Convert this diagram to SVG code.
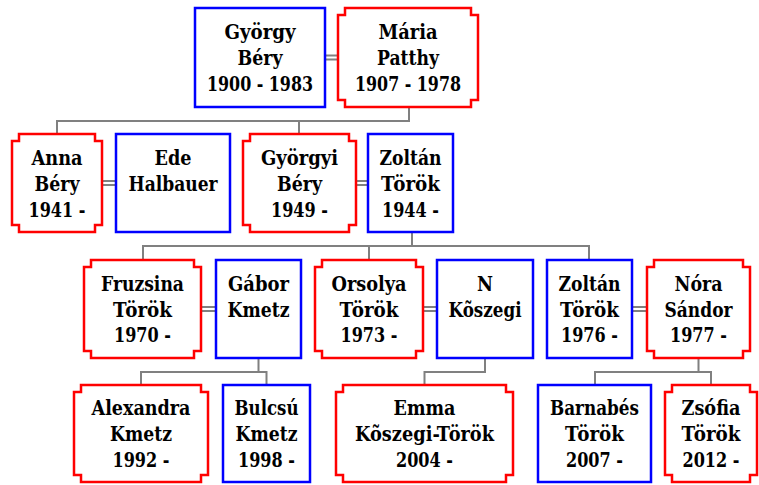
<svg xmlns="http://www.w3.org/2000/svg" width="759" height="485" viewBox="0 0 759 485">
  <style>
    .m { fill: #fff; stroke: #0000ff; stroke-width: 2.5; }
    .f { fill: #fff; stroke: #ff0000; stroke-width: 2.5; }
    .lbl { font-family: "DejaVu Serif", "Liberation Serif", serif; font-size: 20px; font-weight: bold; text-anchor: middle; fill: #000; }
    .ln { fill: none; stroke: #808080; stroke-width: 2; }
  </style>
  <rect width="759" height="485" fill="#fff"/>

  <!-- connectors: marriage double lines and descent lines -->
  <g id="connectors" class="ln">
    <path d="M325 55.5H338M325 59.5H338"/>
    <path d="M57 134V121H409V107M299 121V134"/>
    <path d="M102 181H116M102 185H116"/>
    <path d="M356 181H368M356 185H368"/>
    <path d="M143 260V246H589V260M412 232V246M369 246V260"/>
    <path d="M201 307H216M201 311H216"/>
    <path d="M423 307H437M423 311H437"/>
    <path d="M632 307H647M632 311H647"/>
    <path d="M141 385V372H266.5V385M258.5 358V372"/>
    <path d="M485 358V372H424.5V385"/>
    <path d="M595 385V372H711V385M698.5 358V372"/>
  </g>

  <!-- generation 1 -->
  <g id="gyorgy-bery">
    <rect class="m" x="195" y="8" width="130" height="99"/>
    <text class="lbl" x="260" y="39" textLength="71" lengthAdjust="spacingAndGlyphs">György</text>
    <text class="lbl" x="260" y="65" textLength="45" lengthAdjust="spacingAndGlyphs">Béry</text>
    <text class="lbl" x="260" y="91" textLength="106" lengthAdjust="spacingAndGlyphs">1900 - 1983</text>
  </g>
  <g id="maria-patthy">
    <path class="f" d="M345 8H471V15H478V100H471V107H345V100H338V15H345Z"/>
    <text class="lbl" x="408" y="39" textLength="59" lengthAdjust="spacingAndGlyphs">Mária</text>
    <text class="lbl" x="408" y="65" textLength="62" lengthAdjust="spacingAndGlyphs">Patthy</text>
    <text class="lbl" x="408" y="91" textLength="106" lengthAdjust="spacingAndGlyphs">1907 - 1978</text>
  </g>

  <!-- generation 2 -->
  <g id="anna-bery">
    <path class="f" d="M19 134H95V141H102V225H95V232H19V225H12V141H19Z"/>
    <text class="lbl" x="57" y="165" textLength="51" lengthAdjust="spacingAndGlyphs">Anna</text>
    <text class="lbl" x="57" y="191" textLength="45" lengthAdjust="spacingAndGlyphs">Béry</text>
    <text class="lbl" x="57" y="217" textLength="57" lengthAdjust="spacingAndGlyphs">1941 -</text>
  </g>
  <g id="ede-halbauer">
    <rect class="m" x="116" y="134" width="114" height="98"/>
    <text class="lbl" x="173" y="165" textLength="37" lengthAdjust="spacingAndGlyphs">Ede</text>
    <text class="lbl" x="173" y="191" textLength="89" lengthAdjust="spacingAndGlyphs">Halbauer</text>
  </g>
  <g id="gyorgyi-bery">
    <path class="f" d="M250 134H349V141H356V225H349V232H250V225H243V141H250Z"/>
    <text class="lbl" x="299.5" y="165" textLength="77" lengthAdjust="spacingAndGlyphs">Györgyi</text>
    <text class="lbl" x="299.5" y="191" textLength="45" lengthAdjust="spacingAndGlyphs">Béry</text>
    <text class="lbl" x="299.5" y="217" textLength="57" lengthAdjust="spacingAndGlyphs">1949 -</text>
  </g>
  <g id="zoltan-torok-1944">
    <rect class="m" x="368" y="134" width="85" height="98"/>
    <text class="lbl" x="410.5" y="165" textLength="62" lengthAdjust="spacingAndGlyphs">Zoltán</text>
    <text class="lbl" x="410.5" y="191" textLength="59" lengthAdjust="spacingAndGlyphs">Török</text>
    <text class="lbl" x="410.5" y="217" textLength="57" lengthAdjust="spacingAndGlyphs">1944 -</text>
  </g>

  <!-- generation 3 -->
  <g id="fruzsina-torok">
    <path class="f" d="M91 260H194V267H201V351H194V358H91V351H84V267H91Z"/>
    <text class="lbl" x="142.5" y="291" textLength="83" lengthAdjust="spacingAndGlyphs">Fruzsina</text>
    <text class="lbl" x="142.5" y="317" textLength="59" lengthAdjust="spacingAndGlyphs">Török</text>
    <text class="lbl" x="142.5" y="342" textLength="57" lengthAdjust="spacingAndGlyphs">1970 -</text>
  </g>
  <g id="gabor-kmetz">
    <rect class="m" x="216" y="260" width="85" height="98"/>
    <text class="lbl" x="258.5" y="291" textLength="61" lengthAdjust="spacingAndGlyphs">Gábor</text>
    <text class="lbl" x="258.5" y="317" textLength="62" lengthAdjust="spacingAndGlyphs">Kmetz</text>
  </g>
  <g id="orsolya-torok">
    <path class="f" d="M322 260H416V267H423V351H416V358H322V351H315V267H322Z"/>
    <text class="lbl" x="369" y="291" textLength="75" lengthAdjust="spacingAndGlyphs">Orsolya</text>
    <text class="lbl" x="369" y="317" textLength="59" lengthAdjust="spacingAndGlyphs">Török</text>
    <text class="lbl" x="369" y="342" textLength="57" lengthAdjust="spacingAndGlyphs">1973 -</text>
  </g>
  <g id="n-koszegi">
    <rect class="m" x="437" y="260" width="96" height="98"/>
    <text class="lbl" x="485" y="291" textLength="16" lengthAdjust="spacingAndGlyphs">N</text>
    <text class="lbl" x="485" y="317" textLength="73" lengthAdjust="spacingAndGlyphs">Kõszegi</text>
  </g>
  <g id="zoltan-torok-1976">
    <rect class="m" x="547" y="260" width="85" height="98"/>
    <text class="lbl" x="589.5" y="291" textLength="62" lengthAdjust="spacingAndGlyphs">Zoltán</text>
    <text class="lbl" x="589.5" y="317" textLength="59" lengthAdjust="spacingAndGlyphs">Török</text>
    <text class="lbl" x="589.5" y="342" textLength="57" lengthAdjust="spacingAndGlyphs">1976 -</text>
  </g>
  <g id="nora-sandor">
    <path class="f" d="M654 260H743V267H750V351H743V358H654V351H647V267H654Z"/>
    <text class="lbl" x="698.5" y="291" textLength="48" lengthAdjust="spacingAndGlyphs">Nóra</text>
    <text class="lbl" x="698.5" y="317" textLength="68" lengthAdjust="spacingAndGlyphs">Sándor</text>
    <text class="lbl" x="698.5" y="342" textLength="57" lengthAdjust="spacingAndGlyphs">1977 -</text>
  </g>

  <!-- generation 4 -->
  <g id="alexandra-kmetz">
    <path class="f" d="M81 385H201V392H208V475H201V482H81V475H74V392H81Z"/>
    <text class="lbl" x="141" y="415" textLength="99" lengthAdjust="spacingAndGlyphs">Alexandra</text>
    <text class="lbl" x="141" y="441" textLength="62" lengthAdjust="spacingAndGlyphs">Kmetz</text>
    <text class="lbl" x="141" y="467" textLength="57" lengthAdjust="spacingAndGlyphs">1992 -</text>
  </g>
  <g id="bulcsu-kmetz">
    <rect class="m" x="223" y="385" width="87" height="97"/>
    <text class="lbl" x="266.5" y="415" textLength="64" lengthAdjust="spacingAndGlyphs">Bulcsú</text>
    <text class="lbl" x="266.5" y="441" textLength="62" lengthAdjust="spacingAndGlyphs">Kmetz</text>
    <text class="lbl" x="266.5" y="467" textLength="57" lengthAdjust="spacingAndGlyphs">1998 -</text>
  </g>
  <g id="emma-koszegi-torok">
    <path class="f" d="M343 385H506V392H513V475H506V482H343V475H336V392H343Z"/>
    <text class="lbl" x="424.5" y="415" textLength="62" lengthAdjust="spacingAndGlyphs">Emma</text>
    <text class="lbl" x="424.5" y="441" textLength="139" lengthAdjust="spacingAndGlyphs">Kõszegi-Török</text>
    <text class="lbl" x="424.5" y="467" textLength="57" lengthAdjust="spacingAndGlyphs">2004 -</text>
  </g>
  <g id="barnabes-torok">
    <rect class="m" x="538" y="385" width="113" height="97"/>
    <text class="lbl" x="594.5" y="415" textLength="89" lengthAdjust="spacingAndGlyphs">Barnabés</text>
    <text class="lbl" x="594.5" y="441" textLength="59" lengthAdjust="spacingAndGlyphs">Török</text>
    <text class="lbl" x="594.5" y="467" textLength="57" lengthAdjust="spacingAndGlyphs">2007 -</text>
  </g>
  <g id="zsofia-torok">
    <path class="f" d="M672 385H750V392H757V475H750V482H672V475H665V392H672Z"/>
    <text class="lbl" x="711" y="415" textLength="59" lengthAdjust="spacingAndGlyphs">Zsófia</text>
    <text class="lbl" x="711" y="441" textLength="59" lengthAdjust="spacingAndGlyphs">Török</text>
    <text class="lbl" x="711" y="467" textLength="57" lengthAdjust="spacingAndGlyphs">2012 -</text>
  </g>
</svg>
